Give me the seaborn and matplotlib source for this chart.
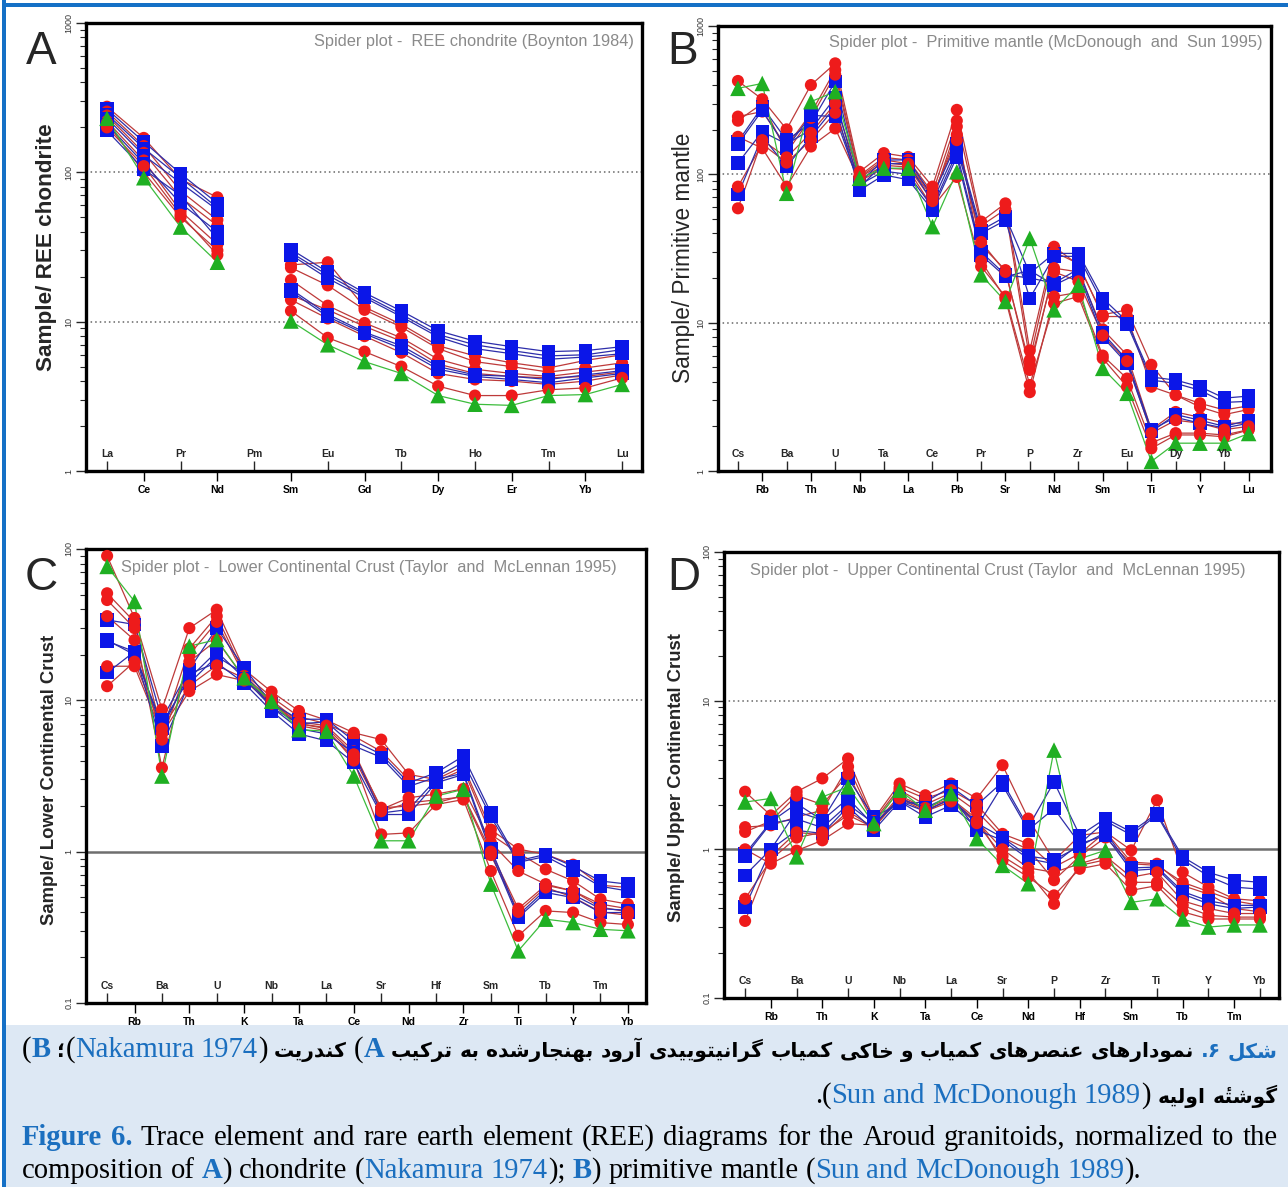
import numpy as np
import pandas as pd
import matplotlib
matplotlib.use("Agg")
import matplotlib.pyplot as plt
from matplotlib.patches import Rectangle
from matplotlib.transforms import blended_transform_factory, IdentityTransform
from matplotlib.ticker import FixedLocator, LogLocator, NullFormatter, FuncFormatter
import seaborn as sns

nan = np.nan

# ---------------- A: REE normalised to chondrite ----------------
ree_elements = ['La', 'Ce', 'Pr', 'Nd', 'Pm', 'Sm', 'Eu', 'Gd', 'Tb', 'Dy', 'Ho', 'Er', 'Tm', 'Yb', 'Lu']
ree_blue = [
    [265, 160, 98, 62, nan, 30.5, 21.5, 15.6, 11.8, 8.7, 7.4, 6.8, 6.3, 6.4, 6.8],
    [245, 145, 92, 58, nan, 29.0, 20.5, 15.0, 11.2, 8.2, 7.0, 6.4, 5.9, 6.0, 6.5],
    [230, 130, 85, 56, nan, 28.0, 19.5, 14.5, 10.8, 7.9, 6.6, 6.1, 5.6, 5.8, 6.1],
    [210, 115, 62, 40, nan, 16.5, 11.2, 8.5, 6.9, 5.0, 4.4, 4.3, 4.1, 4.4, 4.7],
    [190, 105, 70, 36, nan, 16.0, 10.8, 8.3, 6.6, 4.8, 4.3, 4.1, 3.9, 4.2, 4.5],
]
ree_red = [
    [275, 170, 90, 68, nan, 24.0, 25.0, 12.5, 9.6, 6.9, 5.9, 5.3, 4.9, 5.5, 6.0],
    [255, 150, 75, 48, nan, 23.0, 17.5, 12.0, 9.2, 6.6, 5.4, 5.0, 4.6, 4.9, 5.3],
    [240, 135, 68, 44, nan, 19.0, 12.8, 9.8, 7.8, 5.6, 4.8, 4.5, 4.3, 4.6, 4.9],
    [220, 120, 55, 33, nan, 15.0, 12.0, 9.3, 7.4, 5.2, 4.5, 4.3, 4.2, 4.3, 4.6],
    [215, 100, 50, 30, nan, 14.0, 10.5, 8.0, 6.2, 4.5, 4.1, 4.0, 3.8, 4.0, 4.4],
    [200, 110, 52, 28, nan, 11.8, 7.8, 6.3, 5.0, 3.7, 3.2, 3.2, 3.5, 3.6, 4.2],
]
ree_green = [
    [230, 92, 43, 25, nan, 10.1, 7.0, 5.4, 4.5, 3.2, 2.8, 2.75, 3.2, 3.25, 3.8],
]

# ---------------- B: normalised to primitive mantle ----------------
pm_elements = ['Cs', 'Rb', 'Ba', 'Th', 'U', 'Nb', 'Ta', 'La', 'Ce', 'Pb', 'Pr', 'Sr',
               'P', 'Nd', 'Zr', 'Sm', 'Eu', 'Ti', 'Dy', 'Y', 'Yb', 'Lu']
pm_blue = [
    [166, 286, 170, 221, 422, 88, 125, 125, 71, 162, 42, 51.8, 21.5, 29.3, 29.3, 14.6, 10.2, 4.3, 4.1, 3.7, 3.1, 3.2],
    [119, 194, 160, 200, 330, 82, 118, 118, 65, 150, 40, 49, 14.6, 28, 28, 13.5, 9.8, 4.1, 3.9, 3.5, 2.9, 2.95],
    [73, 180, 113, 179, 286, 78, 99, 92, 57.5, 131, 28.6, 20.4, 22.5, 17.9, 21.5, 8.0, 5.3, 1.84, 2.4, 2.2, 2.0, 2.2],
    [160, 270, 150, 250, 245, 85, 105, 100, 60, 140, 30, 21, 20, 18.5, 23, 8.5, 5.6, 1.9, 2.3, 2.1, 1.95, 2.1],
]
pm_red = [
    [426, 321, 201, 400, 560, 104, 139, 131, 82.6, 272, 48, 63.7, 6.5, 32.5, 24.5, 11.3, 12.2, 5.2, 3.25, 2.86, 2.58, 2.75],
    [245, 265, 154, 258, 505, 98, 130, 125, 75, 230, 45, 58, 5.6, 30, 25, 11.0, 11.0, 3.7, 3.25, 2.7, 2.4, 2.6],
    [230, 300, 140, 240, 470, 95, 120, 115, 70, 185, 33.4, 22.6, 4.8, 23.3, 22, 9.0, 6.05, 1.9, 2.5, 2.3, 2.1, 2.1],
    [179, 150, 82.6, 154, 204, 90, 110, 108, 60, 96, 23.9, 15, 3.8, 13.5, 15, 5.75, 3.7, 1.42, 1.75, 1.75, 1.7, 1.89],
    [82.6, 160, 120, 170, 260, 92, 115, 112, 66, 210, 26, 14.5, 3.4, 15, 16, 6.0, 4.2, 1.55, 1.8, 1.8, 1.75, 1.9],
    [59, 170, 130, 190, 300, 96, 125, 118, 72, 170, 35, 22, 5.2, 22, 19, 8.2, 5.5, 1.8, 2.2, 2.1, 1.9, 2.0],
]
pm_green = [
    [380, 410, 74.5, 309, 361, 94, 110, 110, 44.4, 104, 21, 13.9, 37, 12.2, 17.9, 4.92, 3.34, 1.16, 1.54, 1.54, 1.54, 1.79],
]

# ---------------- C: normalised to lower continental crust ----------------
lcc_elements = ['Cs', 'Rb', 'Ba', 'Th', 'U', 'K', 'Nb', 'Ta', 'La', 'Ce', 'Sr', 'Nd',
                'Hf', 'Zr', 'Sm', 'Ti', 'Tb', 'Y', 'Tm', 'Yb']
lcc_blue = [
    [34, 31.7, 7.5, 16, 30, 16.4, 9.5, 7.5, 7.5, 5.4, 4.4, 2.85, 3.32, 4.28, 1.81, 0.87, 0.96, 0.80, 0.64, 0.61],
    [24.6, 21, 5.0, 13, 19.5, 15, 9.0, 7.0, 7.2, 5.0, 4.2, 2.7, 3.1, 3.9, 1.7, 0.85, 0.93, 0.75, 0.59, 0.55],
    [15.2, 21, 6.5, 15, 17.7, 13, 8.5, 6.0, 5.4, 3.87, 1.76, 1.76, 2.85, 3.24, 0.985, 0.367, 0.537, 0.497, 0.396, 0.396],
    [25, 20, 7.0, 14, 21, 14, 9.0, 6.5, 6.0, 4.5, 1.8, 1.9, 3.0, 3.3, 1.05, 0.38, 0.56, 0.52, 0.42, 0.41],
]
lcc_red = [
    [90, 35, 8.7, 30, 39.7, 16, 11.4, 8.5, 7.4, 6.1, 5.5, 3.24, 3.0, 3.67, 1.40, 1.04, 0.96, 0.82, 0.60, 0.58],
    [51, 33, 6.1, 22, 36, 15, 10.5, 7.8, 7.0, 5.8, 4.6, 3.0, 2.9, 3.5, 1.30, 0.98, 0.765, 0.64, 0.485, 0.45],
    [46, 30, 3.58, 20, 33, 14.5, 10.0, 7.2, 6.8, 4.6, 1.9, 2.27, 2.4, 2.6, 1.15, 0.745, 0.61, 0.55, 0.45, 0.42],
    [36, 25, 5.5, 18, 25, 14, 9.8, 7.0, 6.5, 4.0, 1.30, 1.33, 2.05, 2.21, 0.745, 0.278, 0.406, 0.396, 0.34, 0.33],
    [16.8, 16.8, 6.0, 11.5, 14.8, 13.5, 9.5, 6.8, 6.3, 4.2, 1.85, 2.1, 2.2, 2.3, 0.95, 0.40, 0.58, 0.5, 0.40, 0.38],
    [12.4, 18, 6.5, 12.5, 17, 14, 9.6, 7.0, 6.6, 4.4, 1.95, 2.0, 2.1, 2.35, 1.0, 0.42, 0.6, 0.55, 0.43, 0.40],
]
lcc_green = [
    [76.7, 45, 3.16, 22.8, 25.2, 14.1, 9.86, 6.4, 6.25, 3.16, 1.18, 1.18, 2.33, 2.58, 0.61, 0.221, 0.358, 0.34, 0.307, 0.30],
]

# ---------------- D: normalised to upper continental crust ----------------
ucc_elements = ['Cs', 'Rb', 'Ba', 'Th', 'U', 'K', 'Nb', 'Ta', 'La', 'Ce', 'Sr', 'Nd',
                'P', 'Hf', 'Zr', 'Sm', 'Ti', 'Tb', 'Y', 'Tm', 'Yb']
ucc_blue = [
    [0.935, 1.53, 2.03, 1.57, 3.0, 1.65, 2.03, 2.08, 2.63, 1.98, 2.84, 1.41, 2.84, 1.24, 1.61, 1.31, 1.74, 0.89, 0.70, 0.62, 0.60],
    [0.67, 1.0, 1.34, 1.28, 1.93, 1.34, 2.1, 1.65, 1.98, 1.41, 2.7, 1.35, 1.88, 1.09, 1.55, 1.25, 1.7, 0.85, 0.66, 0.557, 0.54],
    [0.41, 1.0, 1.8, 1.57, 2.2, 1.45, 2.2, 1.9, 2.3, 1.35, 1.15, 0.865, 0.80, 1.09, 1.24, 0.72, 0.74, 0.50, 0.43, 0.40, 0.41],
    [0.9, 1.5, 1.6, 1.4, 2.0, 1.5, 2.1, 1.8, 2.2, 1.5, 1.2, 0.9, 0.85, 1.05, 1.3, 0.75, 0.76, 0.52, 0.45, 0.42, 0.42],
]
ucc_red = [
    [2.44, 1.69, 2.44, 3.0, 4.08, 1.6, 2.77, 2.31, 2.77, 2.2, 3.68, 1.61, 0.84, 1.24, 1.31, 0.985, 2.14, 0.70, 0.557, 0.465, 0.45],
    [1.41, 1.45, 1.65, 1.83, 3.6, 1.55, 2.6, 2.2, 2.5, 2.0, 1.27, 1.09, 0.76, 0.935, 1.31, 0.82, 0.80, 0.57, 0.50, 0.40, 0.38],
    [1.31, 1.55, 2.3, 2.0, 3.2, 1.5, 2.5, 2.0, 2.4, 1.8, 1.20, 1.0, 0.62, 0.9, 1.2, 0.80, 0.78, 0.60, 0.52, 0.45, 0.42],
    [1.0, 0.80, 0.98, 1.15, 1.49, 1.45, 2.3, 1.9, 2.2, 1.6, 0.84, 0.65, 0.49, 0.74, 0.80, 0.53, 0.57, 0.38, 0.34, 0.34, 0.34],
    [0.465, 0.85, 1.2, 1.3, 1.7, 1.4, 2.2, 1.8, 2.1, 1.5, 0.9, 0.7, 0.43, 0.78, 0.85, 0.6, 0.6, 0.42, 0.36, 0.35, 0.35],
    [0.33, 0.9, 1.3, 1.25, 1.8, 1.4, 2.25, 1.85, 2.15, 1.55, 1.0, 0.75, 0.70, 0.8, 0.9, 0.65, 0.70, 0.45, 0.40, 0.37, 0.37],
]
ucc_green = [
    [2.08, 2.2, 0.89, 2.25, 2.63, 1.49, 2.5, 1.83, 2.37, 1.18, 0.78, 0.587, 4.65, 0.865, 0.985, 0.44, 0.465, 0.34, 0.30, 0.31, 0.31],
]

# ---------------- caption text ----------------
fa_fig = "شکل"
fa_num = "۶."
fa_body = "نمودارهای عنصرهای کمیاب و خاکی کمیاب گرانیتوییدی آرود بهنجارشده به ترکیب"
fa_chondrite = "کندریت"
fa_mantle = "گوشته\u0654 اولیه"
en_line1 = "Trace element and rare earth element (REE) diagrams for the Aroud granitoids, normalized to the"

# ---------------- styling ----------------
W, H, DPI = 1288, 1187, 100
MARKER_COLORS = {'red': '#ee1b1b', 'blue': '#0b16e8', 'green': '#1faf22'}
LINE_COLORS = {'red': '#bd3a3a', 'blue': '#2e2eaa', 'green': '#3cbc3c'}
MARKERS = {'red': 'o', 'blue': 's', 'green': '^'}
SIZES = {'red': 76, 'blue': 92, 'green': 125}
CAP_BLUE = '#1b6fbf'
CAP_BG = '#dde8f4'
BORDER = '#1570c6'
SANS = ['Liberation Sans', 'DejaVu Sans']

sns.set_theme(style="ticks")
plt.rcParams['font.family'] = SANS

fig = plt.figure(figsize=(W / DPI, H / DPI), dpi=DPI)
fig.patch.set_facecolor('white')


def box(left, top, right, bottom):
    return [left / W, 1 - bottom / H, (right - left) / W, (bottom - top) / H]


def fxy(x, y):
    return x / W, 1 - y / H


def long_table(elements, red, blue, green):
    order = []
    for i in range(max(len(red), len(blue))):
        if i < len(red):
            order.append(('red', i, red[i]))
        if i < len(blue):
            order.append(('blue', i, blue[i]))
    for i, vals in enumerate(green):
        order.append(('green', i, vals))
    rows = []
    for grp, i, vals in order:
        seg = 0
        for pos, v in enumerate(vals):
            if np.isnan(v):
                seg += 1
                continue
            rows.append({'pos': pos, 'element': elements[pos], 'value': v,
                         'group': grp, 'line': f'{grp}{i}-{seg}'})
    return pd.DataFrame(rows)


def spider(ax, elements, df, xlim, ylim, solid_one, title, title_xy):
    ax.set_yscale('log')
    for g in [10, 100, 1000]:
        if ylim[0] < g < ylim[1]:
            ax.axhline(g, color='#666666', lw=1.1, ls=(0, (1, 2)), zorder=0)
    if solid_one:
        ax.axhline(1, color='#6e6e6e', lw=1.8, zorder=0)
    sns.lineplot(data=df, x='pos', y='value', hue='group', units='line', estimator=None,
                 sort=False, palette=LINE_COLORS, linewidth=0.9, legend=False, ax=ax, zorder=2)
    sns.scatterplot(data=df, x='pos', y='value', hue='group', style='group', size='group',
                    markers=MARKERS, sizes=SIZES, palette=MARKER_COLORS, linewidth=0,
                    legend=False, ax=ax, zorder=3)
    ax.set_xlim(*xlim)
    ax.set_ylim(*ylim)
    ax.set_xlabel('')
    ax.set_ylabel('')

    n = len(elements)
    outer = list(range(1, n, 2))
    inner = list(range(0, n, 2))
    ax.xaxis.set_major_locator(FixedLocator(outer))
    ax.set_xticklabels([elements[i] for i in outer])
    ax.xaxis.set_minor_locator(FixedLocator(inner))
    ax.tick_params(axis='x', which='major', direction='out', length=7, width=1.0, pad=3,
                   labelsize=7.5, colors='black')
    ax.tick_params(axis='x', which='minor', direction='in', length=7, width=1.0, bottom=True)
    for lab in ax.get_xticklabels():
        lab.set_fontweight('bold')
    tr = blended_transform_factory(ax.transData, ax.transAxes)
    for i in inner:
        ax.text(i, 0.026, elements[i], transform=tr, ha='center', va='bottom',
                fontsize=7.5, fontweight='bold')

    ax.yaxis.set_major_locator(LogLocator(base=10, numticks=10))
    ax.yaxis.set_minor_locator(LogLocator(base=10, subs=np.arange(2, 10), numticks=30))
    ax.yaxis.set_major_formatter(FuncFormatter(lambda v, _: f'{v:g}'))
    ax.yaxis.set_minor_formatter(NullFormatter())
    ax.tick_params(axis='y', which='major', direction='out', length=7, width=1.0, pad=2,
                   labelsize=6.5, labelrotation=90, labelcolor='#333333', left=True)
    ax.tick_params(axis='y', which='minor', direction='out', length=4, width=0.8, left=True)
    for lab in ax.get_yticklabels():
        lab.set_va('center')

    for s in ax.spines.values():
        s.set_linewidth(2.4)
        s.set_color('black')
    ax.set_facecolor('white')
    ax.text(title_xy[0], title_xy[1], title, transform=ax.transAxes, ha='right', va='center',
            color='#8a8a8a', fontsize=11.8)


panels = [
    dict(rect=box(86, 23, 642, 471), elements=ree_elements, red=ree_red, blue=ree_blue, green=ree_green,
         xlim=(-0.57, 14.54), ylim=(1, 1000), solid=False,
         title='Spider plot -  REE chondrite (Boynton 1984)', title_xy=(0.985, 0.958),
         letter='A', letter_xy=(41, 52), ylabel='Sample/ REE chondrite', ylabel_xy=(47, 247),
         ylabel_kw=dict(fontsize=16.2, fontweight='bold')),
    dict(rect=box(718, 26, 1271, 471), elements=pm_elements, red=pm_red, blue=pm_blue, green=pm_green,
         xlim=(-0.82, 21.92), ylim=(1, 1000), solid=False,
         title='Spider plot -  Primitive mantle (McDonough  and  Sun 1995)', title_xy=(0.985, 0.962),
         letter='B', letter_xy=(683, 52), ylabel='Sample/ Primitive mantle', ylabel_xy=(684, 258),
         ylabel_kw=dict(fontsize=16.3, fontweight='normal')),
    dict(rect=box(86, 549, 646, 1003), elements=lcc_elements, red=lcc_red, blue=lcc_blue, green=lcc_green,
         xlim=(-0.77, 19.66), ylim=(0.1, 100), solid=True,
         title='Spider plot -  Lower Continental Crust (Taylor  and  McLennan 1995)', title_xy=(0.947, 0.96),
         letter='C', letter_xy=(41, 578), ylabel='Sample/ Lower Continental Crust', ylabel_xy=(50, 780),
         ylabel_kw=dict(fontsize=13.3, fontweight='bold')),
    dict(rect=box(724, 552, 1279, 998), elements=ucc_elements, red=ucc_red, blue=ucc_blue, green=ucc_green,
         xlim=(-0.82, 20.74), ylim=(0.1, 100), solid=True,
         title='Spider plot -  Upper Continental Crust (Taylor  and  McLennan 1995)', title_xy=(0.94, 0.958),
         letter='D', letter_xy=(684, 578), ylabel='Sample/ Upper Continental Crust', ylabel_xy=(676, 778),
         ylabel_kw=dict(fontsize=13.3, fontweight='bold')),
]

for p in panels:
    ax = fig.add_axes(p['rect'])
    df = long_table(p['elements'], p['red'], p['blue'], p['green'])
    spider(ax, p['elements'], df, p['xlim'], p['ylim'], p['solid'], p['title'], p['title_xy'])
    fig.text(*fxy(*p['letter_xy']), p['letter'], fontsize=33, ha='center', va='center')
    fig.text(*fxy(*p['ylabel_xy']), p['ylabel'], rotation=90, ha='center', va='center',
             **p['ylabel_kw'])

# ---------------- frame and caption box ----------------
fig.patches.append(Rectangle((5 / W, 0), 1, (H - 1025) / H, transform=fig.transFigure,
                             facecolor=CAP_BG, edgecolor='none', zorder=-1))
fig.patches.append(Rectangle((2 / W, 0), 4 / W, 1, transform=fig.transFigure,
                             facecolor=BORDER, edgecolor='none', zorder=5))
fig.patches.append(Rectangle((2 / W, 1 - 7 / H), 1, 4 / H, transform=fig.transFigure,
                             facecolor=BORDER, edgecolor='none', zorder=5))

# Persian letter forms: isolated, final, initial, medial
FORMS = {
    'ا': ('\uFE8D', '\uFE8E', None, None),
    'آ': ('\uFE81', '\uFE82', None, None),
    'ب': ('\uFE8F', '\uFE90', '\uFE91', '\uFE92'),
    'ت': ('\uFE95', '\uFE96', '\uFE97', '\uFE98'),
    'ج': ('\uFE9D', '\uFE9E', '\uFE9F', '\uFEA0'),
    'خ': ('\uFEA5', '\uFEA6', '\uFEA7', '\uFEA8'),
    'د': ('\uFEA9', '\uFEAA', None, None),
    'ر': ('\uFEAD', '\uFEAE', None, None),
    'ش': ('\uFEB5', '\uFEB6', '\uFEB7', '\uFEB8'),
    'ص': ('\uFEB9', '\uFEBA', '\uFEBB', '\uFEBC'),
    'ع': ('\uFEC9', '\uFECA', '\uFECB', '\uFECC'),
    'ل': ('\uFEDD', '\uFEDE', '\uFEDF', '\uFEE0'),
    'م': ('\uFEE1', '\uFEE2', '\uFEE3', '\uFEE4'),
    'ن': ('\uFEE5', '\uFEE6', '\uFEE7', '\uFEE8'),
    'ه': ('\uFEE9', '\uFEEA', '\uFEEB', '\uFEEC'),
    'و': ('\uFEED', '\uFEEE', None, None),
    'ک': ('\uFB8E', '\uFB8F', '\uFB90', '\uFB91'),
    'گ': ('\uFB92', '\uFB93', '\uFB94', '\uFB95'),
    'ی': ('\uFBFC', '\uFBFD', '\uFBFE', '\uFBFF'),
}


def is_mark(c):
    return '\u064B' <= c <= '\u065F'


def shape(word):
    letters = [c for c in word if not is_mark(c)]
    out = []
    for i, c in enumerate(letters):
        if c not in FORMS:
            out.append(c)
            continue
        prev = letters[i - 1] if i > 0 else None
        nxt = letters[i + 1] if i + 1 < len(letters) else None
        jp = prev in FORMS and FORMS[prev][2] is not None
        jn = FORMS[c][2] is not None and nxt in FORMS
        f = FORMS[c]
        out.append(f[3] if (jp and jn) else f[1] if jp else f[2] if jn else f[0])
    # re-attach marks to the letter they follow
    clusters, k = [], 0
    for c in word:
        if is_mark(c):
            clusters[-1] += c
        else:
            clusters.append(out[k])
            k += 1
    return clusters


def vis(word):
    # right-to-left word laid out left-to-right; marks stay after their base glyph
    return ''.join(reversed(shape(word)))


renderer = fig.canvas.get_renderer()
STYLE = {
    'fa': (['DejaVu Sans'], 'bold', 'black'),
    'faB': (['DejaVu Sans'], 'bold', CAP_BLUE),
    'en': (['Liberation Serif', 'DejaVu Serif'], 'normal', 'black'),
    'enB': (['Liberation Serif', 'DejaVu Serif'], 'normal', CAP_BLUE),
    'enBB': (['Liberation Serif', 'DejaVu Serif'], 'bold', CAP_BLUE),
}


def make_tokens(tokens, fs_fa, fs_en):
    out = []
    for s, sty, gap in tokens:
        fam, wt, col = STYLE[sty]
        fs = fs_fa if sty.startswith('fa') else fs_en
        t = fig.text(0, 0, s, transform=IdentityTransform(), family=fam, fontweight=wt,
                     color=col, fontsize=fs, ha='left', va='baseline')
        out.append((t, t.get_window_extent(renderer).width, gap, sty))
    return out


def place(items, y_img, x0, x1, mode, space):
    widths = sum(w for _, w, _, _ in items)
    ngaps = sum(1 for _, _, g, _ in items if g)
    sp = (x1 - x0 - widths) / max(ngaps, 1) if mode == 'justify' else space
    total = widths + ngaps * sp
    x = x1 - total if mode == 'right' else x0
    for t, w, g, _ in items:
        if g:
            x += sp
        t.set_position((x, H - y_img))
        x += w


def measure(tokens, fs_fa, fs_en):
    items = make_tokens(tokens, fs_fa, fs_en)
    res = (sum(w for _, w, _, s in items if s.startswith('fa')),
           sum(w for _, w, _, s in items if not s.startswith('fa')),
           sum(1 for _, _, g, _ in items if g))
    for t, _, _, _ in items:
        t.remove()
    return res


TARGET = 1256
SPACE_EM = 0.25

en1 = [("Figure", 'enBB', False), ("6.", 'enBB', True)] + [(w, 'en', True) for w in en_line1.split()]
en2 = [("composition", 'en', False), ("of", 'en', True), ("A", 'enBB', True), (")", 'en', False),
       ("chondrite", 'en', True), ("(", 'en', True), ("Nakamura", 'enB', False), ("1974", 'enB', True),
       (");", 'en', False), ("B", 'enBB', True), (")", 'en', False), ("primitive", 'en', True),
       ("mantle", 'en', True), ("(", 'en', True), ("Sun", 'enB', False), ("and", 'enB', True),
       ("McDonough", 'enB', True), ("1989", 'enB', True), (").", 'en', False)]

# English size chosen so the first caption line fills the width with ordinary spacing
_, w_en, g_en = measure(en1, 14, 18)
fs_en = 18 * TARGET / (w_en + g_en * SPACE_EM * 18 * DPI / 72) * 0.985
space_en = SPACE_EM * fs_en * DPI / 72

fa_line1 = ([("(", 'en', False), ("B", 'enBB', False), ("؛", 'fa', True), ("(", 'en', False),
             ("Nakamura", 'enB', False), ("1974", 'enB', True), (")", 'en', False),
             (vis(fa_chondrite), 'fa', True), ("(", 'en', True), ("A", 'enBB', False)]
            + [(vis(w), 'fa', True) for w in reversed(fa_body.split())]
            + [(fa_num[::-1], 'faB', True), (vis(fa_fig), 'faB', True)])
fa_line2 = [(".", 'en', False), ("(", 'en', False), ("Sun", 'enB', False), ("and", 'enB', True),
            ("McDonough", 'enB', True), ("1989", 'enB', True), (")", 'en', False)] + \
           [(vis(w), 'fa', True) for w in reversed(fa_mantle.split())]

# Persian size chosen so the first Persian line fills the width
w_fa, w_other, g_fa = measure(fa_line1, 14, fs_en)
fs_fa = 14 * (TARGET - w_other - g_fa * space_en * 0.9) / w_fa

place(make_tokens(fa_line1, fs_fa, fs_en), 1057, 22, 1278, 'justify', space_en)
place(make_tokens(fa_line2, fs_fa, fs_en), 1103, 22, 1278, 'right', space_en)
place(make_tokens(en1, fs_fa, fs_en), 1145, 22, 1278, 'justify', space_en)
place(make_tokens(en2, fs_fa, fs_en), 1178, 22, 1278, 'left', space_en)

fig.savefig('out.png', dpi=DPI, facecolor='white')
